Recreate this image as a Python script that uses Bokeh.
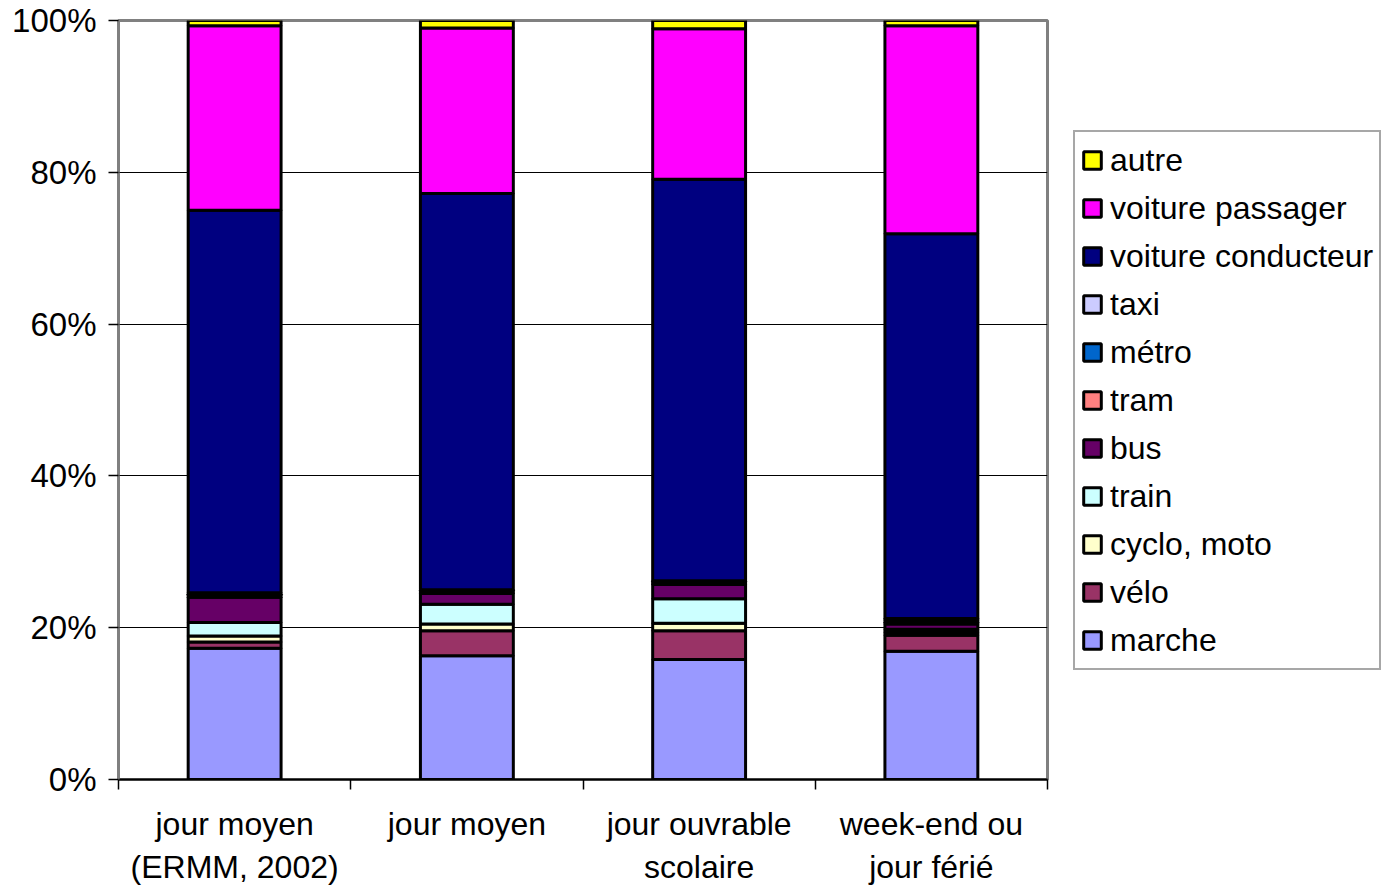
from bokeh.plotting import figure
from bokeh.models import (ColumnDataSource, Range1d, FixedTicker, PrintfTickFormatter,
                          Legend, LegendItem)
from bokeh.embed import file_html
from bokeh.resources import INLINE

# ---- data (percent of trips) ----
categories = ["jour moyen\n(ERMM, 2002)", "jour moyen", "jour ouvrable\nscolaire", "week-end ou\njour férié"]
x_pos = [0.5, 1.5, 2.5, 3.5]

marche = [17.3, 16.3, 15.8, 16.9]
velo = [0.8, 3.3, 3.8, 2.1]
cyclo_moto = [0.8, 0.9, 1.0, 0.4]
train = [1.8, 2.6, 3.2, 0.4]
bus = [3.3, 1.4, 1.9, 0.7]
tram = [0.2, 0.2, 0.2, 0.2]
metro = [0.2, 0.2, 0.2, 0.3]
taxi = [0.2, 0.1, 0.1, 0.2]
voiture_conducteur = [50.4, 52.2, 52.9, 50.7]
voiture_passager = [24.3, 21.8, 19.8, 27.4]
autre = [0.7, 1.0, 1.1, 0.7]

series_labels = ["marche", "vélo", "cyclo, moto", "train", "bus", "tram", "métro", "taxi",
                 "voiture conducteur", "voiture passager", "autre"]
series_values = [marche, velo, cyclo_moto, train, bus, tram, metro, taxi,
                 voiture_conducteur, voiture_passager, autre]
series_colors = ["#9999FF", "#993366", "#FFFFCC", "#CCFFFF", "#660066", "#FF8080",
                 "#0066CC", "#CCCCFF", "#000080", "#FF00FF", "#FFFF00"]
y_ticks = [0, 20, 40, 60, 80, 100]

keys = [f"s{i}" for i in range(len(series_values))]
data = {"x": x_pos}
for k, v in zip(keys, series_values):
    data[k] = v
source = ColumnDataSource(data)

FONT = "Liberation Sans"

p = figure(frame_width=929, frame_height=759,
           min_border_left=118, min_border_right=339, min_border_top=20, min_border_bottom=108,
           x_range=Range1d(0, 4), y_range=Range1d(0, 100),
           output_backend="svg", toolbar_location=None, tools="")

renderers = p.vbar_stack(keys, x="x", width=0.4, source=source,
                         fill_color=series_colors, line_color="black", line_width=3)

# frame / grid
p.outline_line_color = "#808080"
p.outline_line_width = 3
p.background_fill_color = "white"
p.border_fill_color = "white"
p.xgrid.grid_line_color = None
p.ygrid.grid_line_color = "black"
p.ygrid.grid_line_width = 1
p.ygrid.ticker = FixedTicker(ticks=y_ticks)

# y axis
p.yaxis.ticker = FixedTicker(ticks=y_ticks)
p.yaxis.formatter = PrintfTickFormatter(format="%d%%")
p.yaxis.axis_line_color = "#808080"
p.yaxis.axis_line_width = 2
p.yaxis.major_tick_line_color = "black"
p.yaxis.major_tick_line_width = 1.5
p.yaxis.major_tick_out = 10
p.yaxis.major_tick_in = 0
p.yaxis.minor_tick_line_color = None
p.yaxis.major_label_text_font = FONT
p.yaxis.major_label_text_font_size = "33px"
p.yaxis.major_label_text_color = "black"
p.yaxis.major_label_standoff = 12

# x axis: labels at centers, ticks at boundaries
p.xaxis.ticker = FixedTicker(ticks=x_pos, minor_ticks=[0, 1, 2, 3, 4])
p.xaxis.major_label_overrides = {x: c for x, c in zip(x_pos, categories)}
p.xaxis.axis_line_color = "black"
p.xaxis.axis_line_width = 2
p.xaxis.major_tick_line_color = None
p.xaxis.minor_tick_line_color = "black"
p.xaxis.minor_tick_line_width = 1.5
p.xaxis.minor_tick_out = 10
p.xaxis.minor_tick_in = 0
p.xaxis.major_label_text_font = FONT
p.xaxis.major_label_text_font_size = "32px"
p.xaxis.major_label_text_color = "black"
p.xaxis.major_label_standoff = 16

# legend (reverse order: autre on top)
items = [LegendItem(label=lab, renderers=[r]) for lab, r in zip(series_labels, renderers)][::-1]
legend = Legend(items=items, location=(26, 109),
                label_text_font=FONT, label_text_font_size="32px", label_text_color="black",
                glyph_width=22, glyph_height=22, label_standoff=7,
                label_height=44, spacing=4, padding=6, margin=0,
                border_line_color="#505050", border_line_width=2,
                background_fill_color="white", background_fill_alpha=1)
p.add_layout(legend, "right")

open("out.html", "w").write(file_html(p, INLINE))
